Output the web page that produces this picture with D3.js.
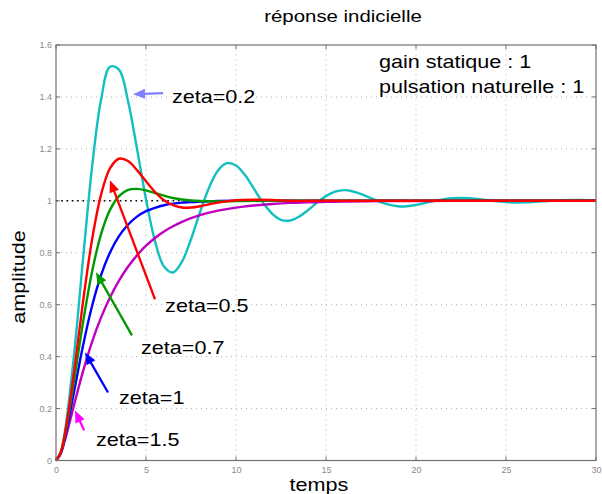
<!DOCTYPE html>
<html>
<head>
<meta charset="utf-8">
<script src="https://cdn.jsdelivr.net/npm/d3@7"></script>
<style>
body { margin: 0; background: #fff; }
text { font-family: "Liberation Sans", Arial, Helvetica, sans-serif; }
</style>
</head>
<body>
<div id="chart"></div>
<script>
var width = 602, height = 494;
var margin = {left: 56, right: 6, top: 45, bottom: 33.5};

// time samples (s)
var tFine = [0,0.25,0.5,1,1.5,2,2.5,3,3.5,4,4.5,5,5.5,6,6.5,7,7.5,8,8.5,9,9.5,10,10.5,11,11.5,12,12.5,13,13.5,14,14.5,15,15.5,16,16.5,17,17.5,18,18.5,19,19.5,20,21,22,23,24,25,26,27,28,29,30];
var tCoarse = [0,0.25,0.5,1,1.5,2,2.5,3,3.5,4,4.5,5,5.5,6,6.5,7,7.5,8,9,10,11,12,13,14,15,16,18,20,22,25,30];

// amplitude
var zeta02 = [0,0.030,0.115,0.405,0.775,1.128,1.388,1.516,1.505,1.384,1.201,1.006,0.845,0.747,0.724,0.766,0.852,0.956,1.050,1.117,1.145,1.136,1.099,1.046,0.993,0.951,0.927,0.924,0.939,0.964,0.993,1.018,1.035,1.041,1.036,1.025,1.010,0.996,0.985,0.979,0.979,0.984,0.999,1.010,1.010,1.002,0.995,0.994,0.998,1.002,1.003,1.002];
var zeta05 = [0,0.029,0.104,0.340,0.611,0.849,1.023,1.125,1.162,1.153,1.118,1.075,1.034,1.002,0.983,0.974,0.974,0.979,0.993,1.002,1.004,1.003,1.000,1.000,1,1,1,1,1,1,1];
var zeta07 = [0,0.028,0.098,0.306,0.531,0.726,0.871,0.965,1.018,1.042,1.046,1.040,1.030,1.020,1.011,1.005,1.001,0.999,0.998,0.999,1,1,1,1,1,1,1,1,1,1,1];
var zeta1 = [0,0.026,0.090,0.264,0.442,0.594,0.713,0.801,0.864,0.908,0.939,0.960,0.973,0.983,0.989,0.993,0.995,0.997,0.999,1.000,1,1,1,1,1,1,1,1,1,1,1];
var zeta15 = [0,0.024,0.079,0.213,0.343,0.456,0.550,0.628,0.693,0.746,0.790,0.827,0.857,0.882,0.902,0.919,0.933,0.945,0.962,0.974,0.982,0.988,0.992,0.994,0.996,0.997,0.999,0.999,1.000,1,1];

var xTicks = [0,5,10,15,20,25,30];
var yTicks = [0,0.2,0.4,0.6,0.8,1,1.2,1.4,1.6];

// label text, arrow tail/tip (data units)
var labels = ["zeta=0.2","zeta=0.5","zeta=0.7","zeta=1","zeta=1.5"];
var labelPos = [[6.44,1.376],[6.06,0.571],[4.72,0.412],[3.5,0.216],[2.22,0.054]];
var arrowTail = [[5.95,1.415],[5.5,0.621],[4.22,0.482],[2.89,0.262],[1.56,0.116]];
var arrowTip = [[4.28,1.410],[3.0,1.079],[2.22,0.725],[1.61,0.416],[1.06,0.193]];
var arrowColors = ["#8080ff","#ff0000","#009900","#0000ff","#ff00ff"];

var infoLines = ["gain statique : 1","pulsation naturelle : 1"];
var infoPos = [[17.94,1.511],[17.94,1.415]];

var svg = d3.select('#chart').append('svg')
	.attr('width', width)
	.attr('height', height);

var x = d3.scaleLinear().domain([0,30]).range([margin.left, width - margin.right]);
var y = d3.scaleLinear().domain([0,1.6]).range([height - margin.bottom, margin.top]);

// grid
svg.append("g").selectAll("line")
	.data(xTicks.slice(1,-1))
	.enter().append("line")
	.attr("x1", function(d){ return x(d); })
	.attr("x2", function(d){ return x(d); })
	.attr("y1", y(0)).attr("y2", y(1.6))
	.style("stroke", "#b4b4b4").style("stroke-dasharray", "1,4");
svg.append("g").selectAll("line")
	.data(yTicks.slice(1,-1))
	.enter().append("line")
	.attr("y1", function(d){ return y(d); })
	.attr("y2", function(d){ return y(d); })
	.attr("x1", x(0)).attr("x2", x(30))
	.style("stroke", "#b4b4b4").style("stroke-dasharray", "1,4");

// black dotted reference at 1
svg.append("line")
	.attr("x1", x(0)).attr("x2", x(30))
	.attr("y1", y(1)).attr("y2", y(1))
	.style("stroke", "#000").style("stroke-width", 1.4).style("stroke-dasharray", "1.6,3.7");

// axes (labels only), ticks drawn inward
var fmt = function(d){ return String(+d.toFixed(1)); };
var xAxis = svg.append("g").attr("transform", "translate(0," + y(0) + ")")
	.call(d3.axisBottom(x).tickValues(xTicks).tickSize(0).tickPadding(6).tickFormat(fmt));
var yAxis = svg.append("g").attr("transform", "translate(" + x(0) + ",0)")
	.call(d3.axisLeft(y).tickValues(yTicks).tickSize(0).tickPadding(4).tickFormat(fmt));
[xAxis, yAxis].forEach(function(a){
	a.select(".domain").remove();
	a.selectAll("text").style("font-size", "9px").style("fill", "#8a8a8a")
		.style("font-family", '"Liberation Sans", Arial, sans-serif');
});

var ticks = svg.append("g").style("stroke", "#707070");
xTicks.forEach(function(d){
	ticks.append("line").attr("x1", x(d)).attr("x2", x(d)).attr("y1", y(0)).attr("y2", y(0) - 4);
	ticks.append("line").attr("x1", x(d)).attr("x2", x(d)).attr("y1", y(1.6)).attr("y2", y(1.6) + 4);
});
yTicks.forEach(function(d){
	ticks.append("line").attr("y1", y(d)).attr("y2", y(d)).attr("x1", x(0)).attr("x2", x(0) + 4);
	ticks.append("line").attr("y1", y(d)).attr("y2", y(d)).attr("x1", x(30)).attr("x2", x(30) - 4);
});

// curves, red on top
var series = [
	{t: tFine, v: zeta02, color: "#13bfbf"},
	{t: tCoarse, v: zeta15, color: "#bf00bf"},
	{t: tCoarse, v: zeta1, color: "#0000ff"},
	{t: tCoarse, v: zeta07, color: "#009900"},
	{t: tCoarse, v: zeta05, color: "#ff0000"}
];
var line = d3.line()
	.x(function(d){ return x(d[0]); })
	.y(function(d){ return y(d[1]); })
	.curve(d3.curveCatmullRom.alpha(0.5));

svg.selectAll("path.curve")
	.data(series)
	.enter().append("path")
	.attr("class", "curve")
	.attr("d", function(s){ return line(s.t.map(function(t,i){ return [t, s.v[i]]; })); })
	.style("fill", "none")
	.style("stroke", function(s){ return s.color; })
	.style("stroke-width", 2.4);

// frame
svg.append("rect")
	.attr("x", x(0)).attr("y", y(1.6))
	.attr("width", x(30) - x(0)).attr("height", y(0) - y(1.6))
	.style("fill", "none").style("stroke", "#707070").style("stroke-width", 1.2);

// arrows
var headLen = 12, headHalf = 5;
arrowTail.forEach(function(tail, i){
	var x0 = x(tail[0]), y0 = y(tail[1]);
	var x1 = x(arrowTip[i][0]), y1 = y(arrowTip[i][1]);
	var dx = x1 - x0, dy = y1 - y0, len = Math.sqrt(dx*dx + dy*dy);
	var ux = dx/len, uy = dy/len;
	var bx = x1 - ux*headLen, by = y1 - uy*headLen;
	svg.append("line")
		.attr("x1", x0).attr("y1", y0).attr("x2", bx + ux*2).attr("y2", by + uy*2)
		.style("stroke", arrowColors[i]).style("stroke-width", 2.3);
	svg.append("polygon")
		.attr("points", [[x1,y1],[bx - uy*headHalf, by + ux*headHalf],[bx + uy*headHalf, by - ux*headHalf]].join(" "))
		.style("fill", arrowColors[i]);
});

// stretched text helper
function stext(px, py, str, size, anchor, rot){
	var tr = "translate(" + px + "," + py + ")" + (rot ? " rotate(" + rot + ")" : "") + " scale(1.2,1)";
	return svg.append("text")
		.attr("transform", tr)
		.attr("text-anchor", anchor || "start")
		.style("font-size", size + "px")
		.style("fill", "#000")
		.text(str);
}

labels.forEach(function(l, i){
	stext(x(labelPos[i][0]), y(labelPos[i][1]), l, 18);
});
infoLines.forEach(function(l, i){
	stext(x(infoPos[i][0]), y(infoPos[i][1]), l, 18);
});

stext(343, 22, "réponse indicielle", 17, "middle");
stext(319, 491, "temps", 18, "middle");
stext(25, 277, "amplitude", 18, "middle", -90);
</script>
</body>
</html>
